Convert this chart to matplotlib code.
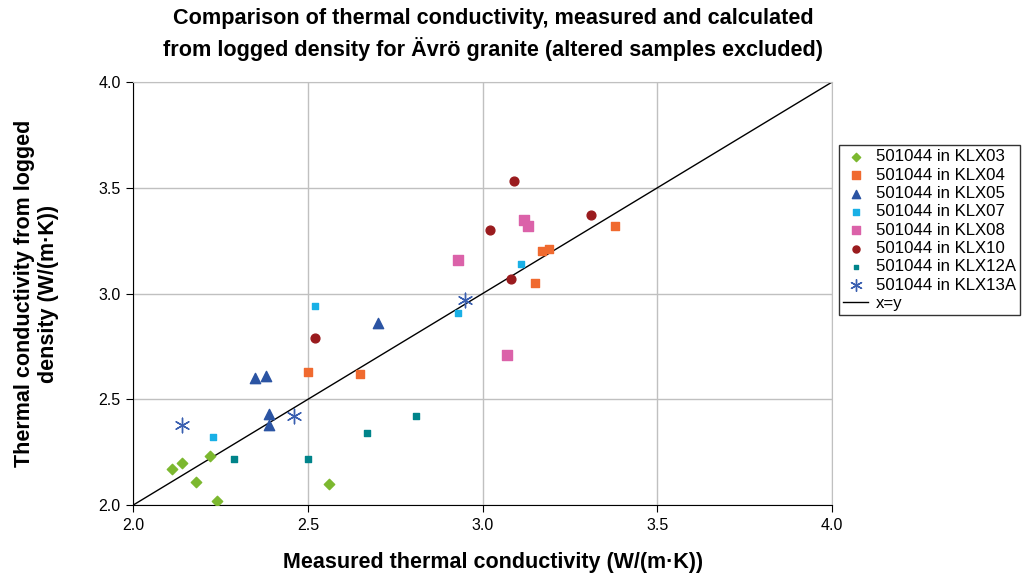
import numpy as np
import matplotlib.pyplot as plt

plt.rcParams['font.family'] = ['Liberation Sans', 'DejaVu Sans']

# measured (x) vs calculated from logged density (y)
klx03_x = [2.11, 2.14, 2.22, 2.18, 2.24, 2.56]
klx03_y = [2.17, 2.20, 2.23, 2.11, 2.02, 2.10]
klx04_x = [2.50, 2.65, 3.17, 3.19, 3.15, 3.38]
klx04_y = [2.63, 2.62, 3.20, 3.21, 3.05, 3.32]
klx05_x = [2.35, 2.38, 2.39, 2.39, 2.70]
klx05_y = [2.60, 2.61, 2.43, 2.38, 2.86]
klx07_x = [2.23, 2.52, 2.93, 3.11]
klx07_y = [2.32, 2.94, 2.91, 3.14]
klx08_x = [2.93, 3.12, 3.13, 3.07]
klx08_y = [3.16, 3.35, 3.32, 2.71]
klx10_x = [3.09, 3.02, 3.31, 3.08, 2.52]
klx10_y = [3.53, 3.30, 3.37, 3.07, 2.79]
klx12a_x = [2.29, 2.50, 2.67, 2.81]
klx12a_y = [2.22, 2.22, 2.34, 2.42]
klx13a_x = [2.14, 2.46, 2.95]
klx13a_y = [2.38, 2.42, 2.97]

fig = plt.figure(figsize=(10.24, 5.74), dpi=100)
ax = fig.add_axes([0.130, 0.120, 0.6825, 0.737])

ax.grid(True, color="#c0c0c0", linewidth=1.0)
ax.set_axisbelow(True)

ax.scatter(klx03_x, klx03_y, marker="D", s=28, color="#7cb82f", label="501044 in KLX03", zorder=3)
ax.scatter(klx04_x, klx04_y, marker="s", s=40, color="#f06a2f", label="501044 in KLX04", zorder=3)
ax.scatter(klx05_x, klx05_y, marker="^", s=55, color="#2b54a3", label="501044 in KLX05", zorder=3)
ax.scatter(klx07_x, klx07_y, marker="s", s=22, color="#19b0e6", label="501044 in KLX07", zorder=3)
ax.scatter(klx08_x, klx08_y, marker="s", s=45, color="#db62a9", label="501044 in KLX08", zorder=3)
ax.scatter(klx10_x, klx10_y, marker="o", s=40, color="#9a1b1e", label="501044 in KLX10", zorder=3)
ax.scatter(klx12a_x, klx12a_y, marker="s", s=20, color="#00848a", label="501044 in KLX12A", zorder=3)
ax.scatter(klx13a_x, klx13a_y, marker=(6, 2, 0), s=110, color="#3a5fb0", linewidths=1.0,
           label="501044 in KLX13A", zorder=3)
ax.plot([2.0, 4.0], [2.0, 4.0], color="black", linewidth=1.0, label="x=y", zorder=2)

ax.set_xlim(2.0, 4.0)
ax.set_ylim(2.0, 4.0)
ticks = np.arange(2.0, 4.01, 0.5)
ax.set_xticks(ticks)
ax.set_yticks(ticks)
ax.set_xticklabels([f"{t:.1f}" for t in ticks], fontsize=11.5)
ax.set_yticklabels([f"{t:.1f}" for t in ticks], fontsize=11.5)
ax.tick_params(direction="out", length=5, color="black", pad=4)
ax.spines["left"].set_color("black")
ax.spines["bottom"].set_color("black")
ax.spines["top"].set_color("#c0c0c0")
ax.spines["right"].set_color("#c0c0c0")

ax.set_xlabel("Measured thermal conductivity (W/(m\u00b7K))", fontsize=15.5,
              fontweight="bold", labelpad=14, x=0.515)
ax.set_ylabel("Thermal conductivity from logged\ndensity (W/(m\u00b7K))", fontsize=15.5,
              fontweight="bold", labelpad=28)
ax.set_title("Comparison of thermal conductivity, measured and calculated\n"
             "from logged density for \u00c4vr\u00f6 granite (altered samples excluded)",
             fontsize=15.6, fontweight="bold", pad=19, linespacing=1.4, x=0.515)

leg = ax.legend(loc="upper left", bbox_to_anchor=(1.010, 0.851), borderaxespad=0,
                fontsize=12.1, frameon=True, fancybox=False, edgecolor="black",
                borderpad=0.25, labelspacing=0.2, handletextpad=0.45,
                handlelength=1.5, markerscale=0.8)
leg.get_frame().set_linewidth(1.0)

fig.savefig("out.png", dpi=100)
